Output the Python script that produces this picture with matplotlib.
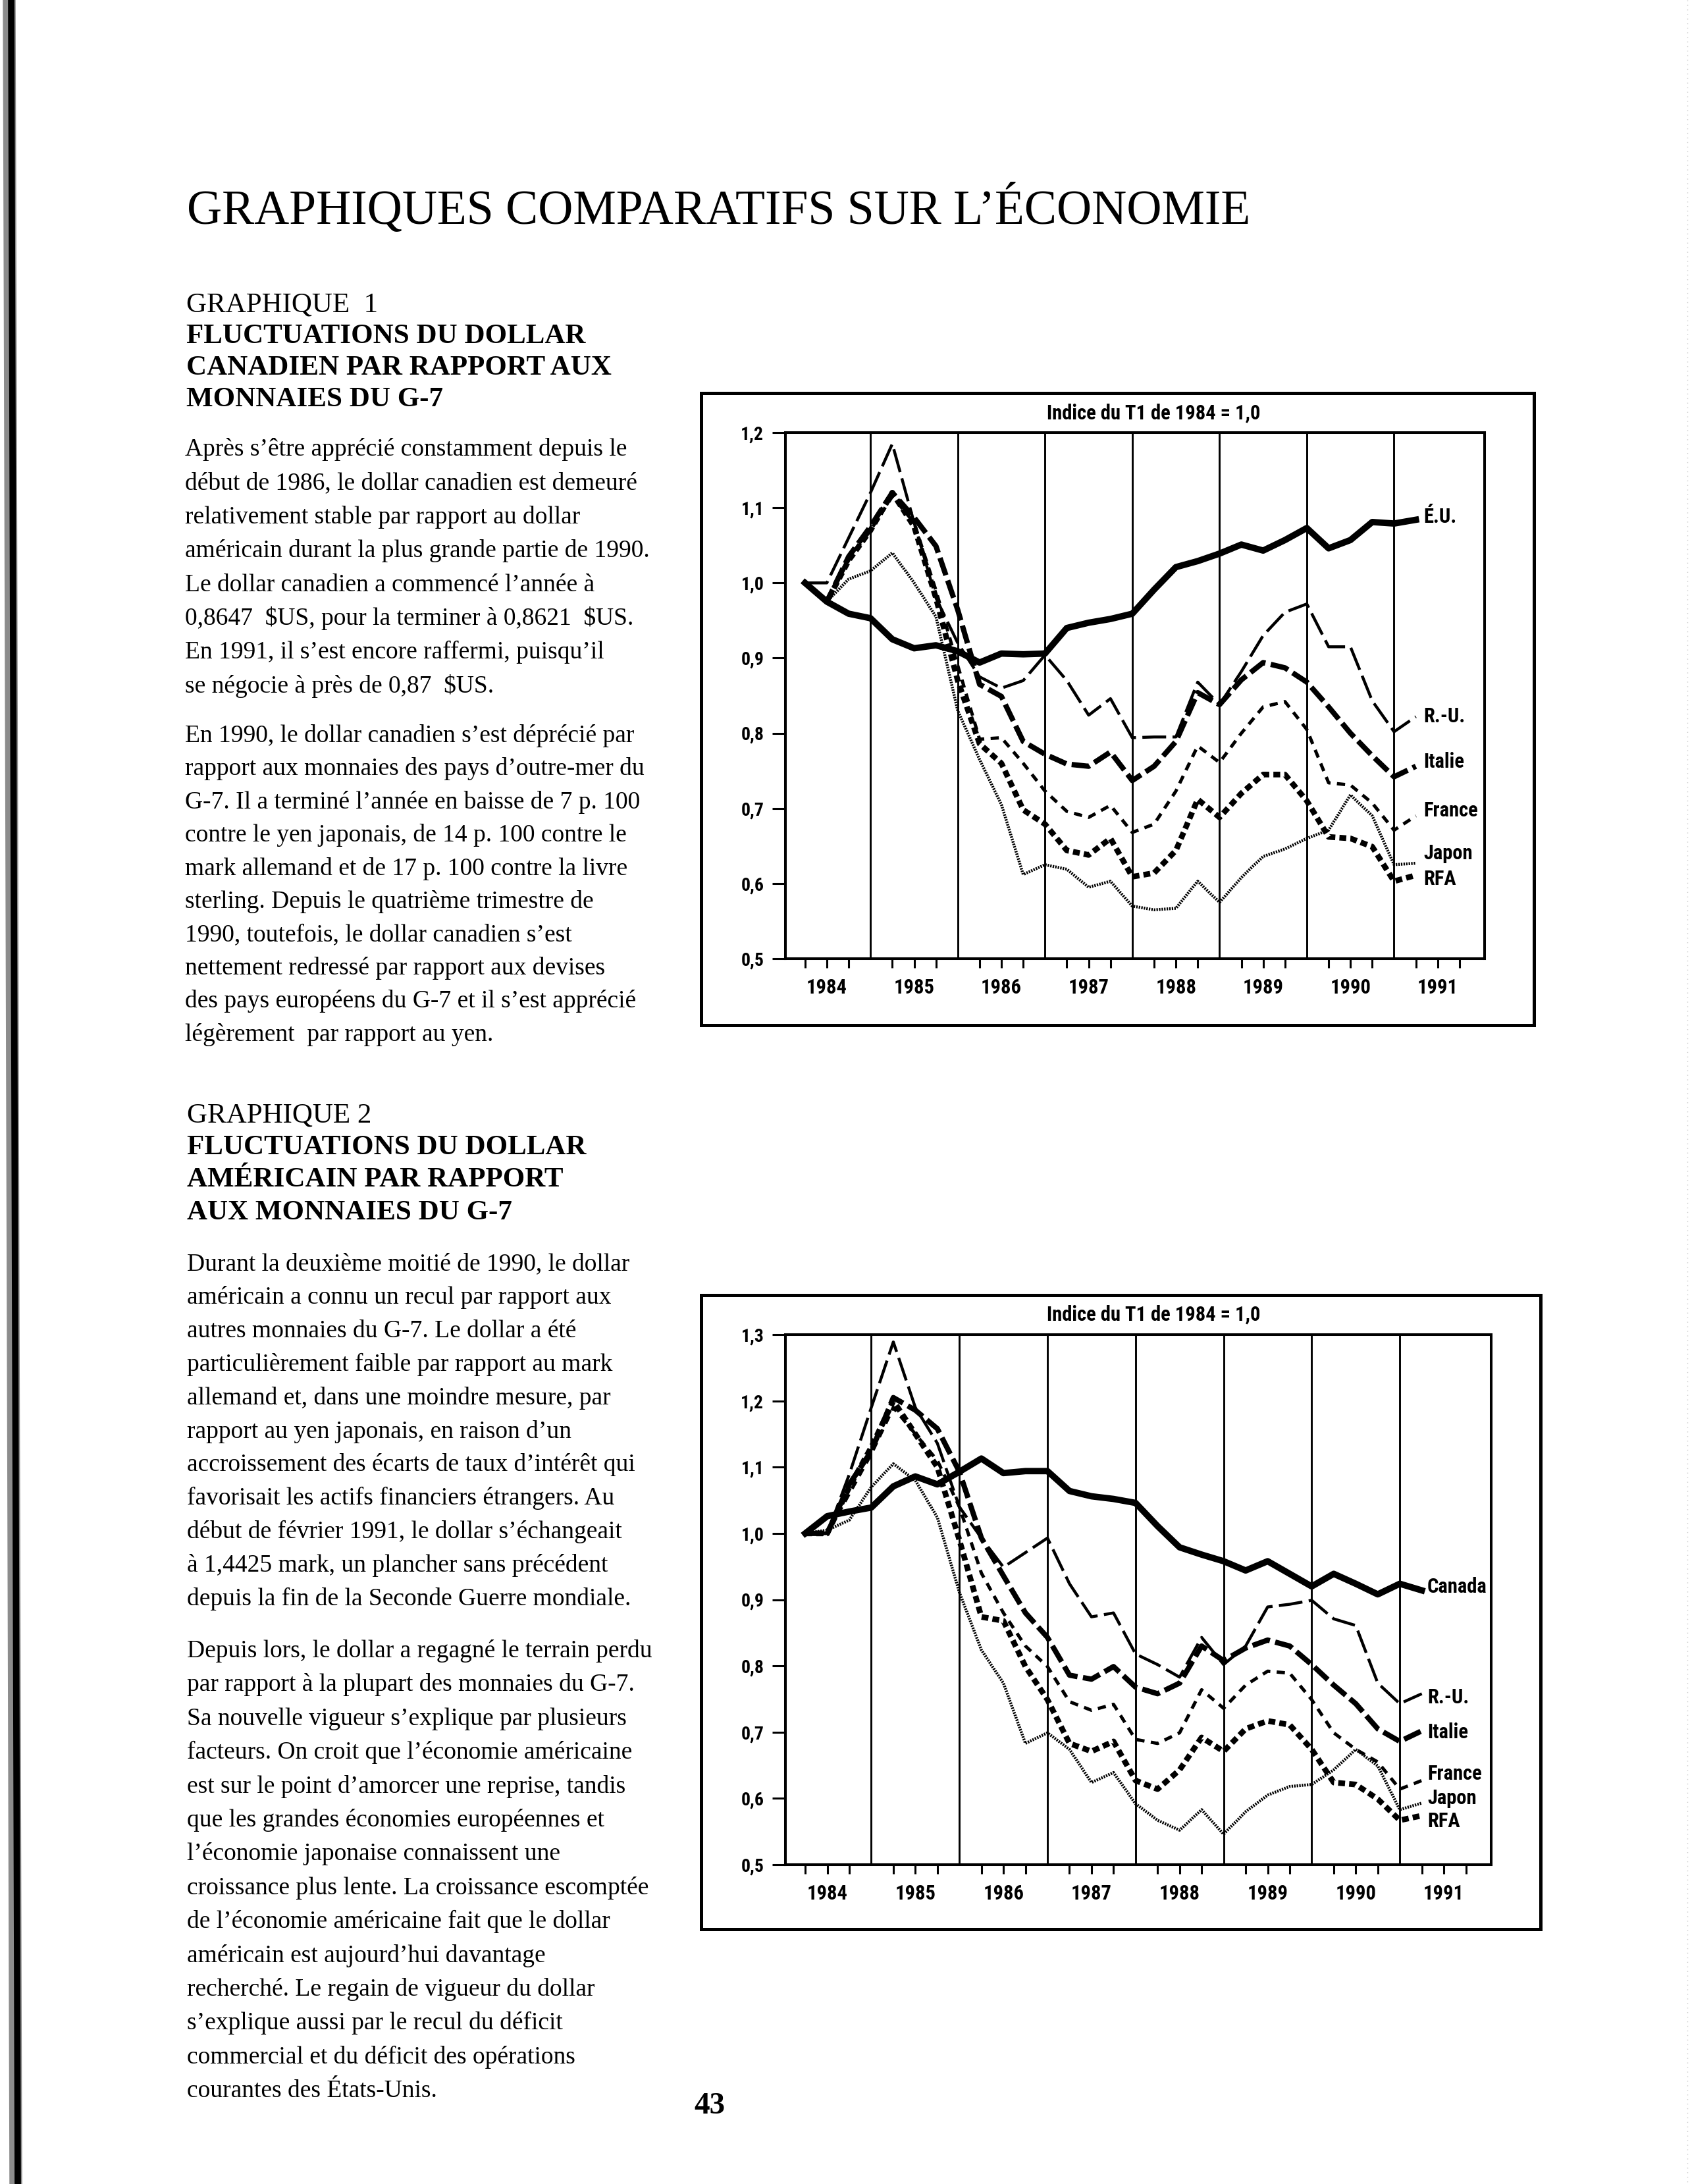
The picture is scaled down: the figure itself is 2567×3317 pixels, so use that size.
import matplotlib
matplotlib.use('Agg')
import matplotlib.pyplot as plt
from matplotlib import font_manager as fm
from matplotlib.patches import Rectangle
from matplotlib.lines import Line2D

W, H = 2567, 3317

# quarterly index, T1 1984 = 1,0 (1984 T1 .. 1991 T1)
year_labels = ['1984', '1985', '1986', '1987', '1988', '1989', '1990', '1991']
y1_ticks = [0.5, 0.6, 0.7, 0.8, 0.9, 1.0, 1.1, 1.2]
y1_labels = ['0,5', '0,6', '0,7', '0,8', '0,9', '1,0', '1,1', '1,2']
y2_ticks = [0.5, 0.6, 0.7, 0.8, 0.9, 1.0, 1.1, 1.2, 1.3]
y2_labels = ['0,5', '0,6', '0,7', '0,8', '0,9', '1,0', '1,1', '1,2', '1,3']

# graphique 1 : dollar canadien
g1_eu = [1.000, 0.975, 0.959, 0.953, 0.925, 0.913, 0.917, 0.909, 0.894, 0.906,
         0.905, 0.906, 0.940, 0.947, 0.952, 0.959, 0.991, 1.021, 1.029, 1.039,
         1.051, 1.043, 1.057, 1.073, 1.046, 1.057, 1.081, 1.079, 1.084]
g1_ru = [1.000, 1.000, 1.060, 1.120, 1.185, 1.080, 0.980, 0.920, 0.875, 0.860,
         0.870, 0.904, 0.870, 0.824, 0.846, 0.794, 0.795, 0.795, 0.868, 0.838,
         0.882, 0.930, 0.961, 0.972, 0.915, 0.915, 0.843, 0.802, 0.822]
g1_it = [1.000, 0.975, 1.035, 1.075, 1.120, 1.087, 1.049, 0.964, 0.865, 0.849,
         0.789, 0.772, 0.759, 0.756, 0.775, 0.737, 0.756, 0.789, 0.854, 0.838,
         0.871, 0.894, 0.887, 0.868, 0.835, 0.800, 0.770, 0.742, 0.756]
g1_fr = [1.000, 0.975, 1.030, 1.070, 1.115, 1.080, 0.990, 0.890, 0.792, 0.794,
         0.760, 0.723, 0.696, 0.688, 0.704, 0.668, 0.679, 0.723, 0.783, 0.761,
         0.800, 0.835, 0.842, 0.805, 0.734, 0.731, 0.707, 0.671, 0.690]
g1_jp = [1.000, 0.975, 1.005, 1.016, 1.040, 1.000, 0.955, 0.830, 0.765, 0.705,
         0.612, 0.625, 0.619, 0.595, 0.603, 0.570, 0.565, 0.567, 0.603, 0.575,
         0.608, 0.636, 0.646, 0.660, 0.671, 0.718, 0.690, 0.625, 0.627]
g1_rfa = [1.000, 0.975, 1.030, 1.070, 1.120, 1.075, 0.980, 0.870, 0.786, 0.760,
          0.698, 0.679, 0.644, 0.638, 0.660, 0.609, 0.614, 0.644, 0.712, 0.688,
          0.720, 0.745, 0.745, 0.710, 0.662, 0.660, 0.649, 0.603, 0.611]

# graphique 2 : dollar américain
g2_ca = [1.000, 1.026, 1.033, 1.039, 1.071, 1.086, 1.074, 1.093, 1.113, 1.091,
         1.094, 1.094, 1.064, 1.056, 1.052, 1.046, 1.011, 0.979, 0.968, 0.958,
         0.944, 0.958, 0.939, 0.920, 0.939, 0.924, 0.908, 0.924, 0.914]
g2_ru = [1.000, 1.000, 1.089, 1.190, 1.289, 1.190, 1.136, 1.040, 0.993, 0.949,
         0.971, 0.993, 0.924, 0.874, 0.880, 0.818, 0.802, 0.783, 0.843, 0.802,
         0.830, 0.889, 0.893, 0.899, 0.871, 0.861, 0.774, 0.743, 0.758]
g2_it = [1.000, 1.000, 1.074, 1.124, 1.205, 1.186, 1.158, 1.093, 0.993, 0.936,
         0.880, 0.843, 0.786, 0.780, 0.799, 0.768, 0.758, 0.774, 0.830, 0.808,
         0.827, 0.839, 0.830, 0.802, 0.771, 0.743, 0.705, 0.686, 0.702]
g2_fr = [1.000, 1.000, 1.060, 1.120, 1.190, 1.150, 1.110, 1.040, 0.940, 0.880,
         0.830, 0.799, 0.746, 0.733, 0.742, 0.689, 0.683, 0.699, 0.764, 0.736,
         0.771, 0.792, 0.789, 0.749, 0.699, 0.674, 0.655, 0.614, 0.627]
g2_jp = [1.000, 1.005, 1.020, 1.070, 1.105, 1.080, 1.024, 0.911, 0.824, 0.774,
         0.683, 0.699, 0.674, 0.624, 0.639, 0.592, 0.567, 0.552, 0.583, 0.546,
         0.580, 0.605, 0.618, 0.621, 0.643, 0.674, 0.649, 0.583, 0.593]
g2_rfa = [1.000, 1.000, 1.070, 1.130, 1.200, 1.150, 1.100, 0.990, 0.874, 0.868,
          0.799, 0.749, 0.683, 0.671, 0.686, 0.627, 0.614, 0.643, 0.692, 0.671,
          0.705, 0.717, 0.711, 0.674, 0.624, 0.621, 0.599, 0.567, 0.574]

g1_series = [('Japon', g1_jp), ('RFA', g1_rfa), ('France', g1_fr),
             ('Italie', g1_it), ('R.-U.', g1_ru), ('É.U.', g1_eu)]
g2_series = [('Japon', g2_jp), ('RFA', g2_rfa), ('France', g2_fr),
             ('Italie', g2_it), ('R.-U.', g2_ru), ('Canada', g2_ca)]

# where the end labels sit (data units)
g1_label_y = {'É.U.': 1.088, 'R.-U.': 0.822, 'Italie': 0.762,
              'France': 0.697, 'Japon': 0.640, 'RFA': 0.606}
g2_label_y = {'Canada': 0.919, 'R.-U.': 0.752, 'Italie': 0.700,
              'France': 0.637, 'Japon': 0.600, 'RFA': 0.566}

title = 'GRAPHIQUES COMPARATIFS SUR L\u2019ÉCONOMIE'
chart_title = 'Indice du T1 de 1984 = 1,0'

head1 = ['GRAPHIQUE  1', 'FLUCTUATIONS DU DOLLAR',
         'CANADIEN PAR RAPPORT AUX', 'MONNAIES DU G-7']
body1a = ['Après s\u2019être apprécié constamment depuis le',
          'début de 1986, le dollar canadien est demeuré',
          'relativement stable par rapport au dollar',
          'américain durant la plus grande partie de 1990.',
          'Le dollar canadien a commencé l\u2019année à',
          '0,8647  $US, pour la terminer à 0,8621  $US.',
          'En 1991, il s\u2019est encore raffermi, puisqu\u2019il',
          'se négocie à près de 0,87  $US.']
body1b = ['En 1990, le dollar canadien s\u2019est déprécié par',
          'rapport aux monnaies des pays d\u2019outre-mer du',
          'G-7. Il a terminé l\u2019année en baisse de 7 p. 100',
          'contre le yen japonais, de 14 p. 100 contre le',
          'mark allemand et de 17 p. 100 contre la livre',
          'sterling. Depuis le quatrième trimestre de',
          '1990, toutefois, le dollar canadien s\u2019est',
          'nettement redressé par rapport aux devises',
          'des pays européens du G-7 et il s\u2019est apprécié',
          'légèrement  par rapport au yen.']

head2 = ['GRAPHIQUE 2', 'FLUCTUATIONS DU DOLLAR',
         'AMÉRICAIN PAR RAPPORT', 'AUX MONNAIES DU G-7']
body2a = ['Durant la deuxième moitié de 1990, le dollar',
          'américain a connu un recul par rapport aux',
          'autres monnaies du G-7. Le dollar a été',
          'particulièrement faible par rapport au mark',
          'allemand et, dans une moindre mesure, par',
          'rapport au yen japonais, en raison d\u2019un',
          'accroissement des écarts de taux d\u2019intérêt qui',
          'favorisait les actifs financiers étrangers. Au',
          'début de février 1991, le dollar s\u2019échangeait',
          'à 1,4425 mark, un plancher sans précédent',
          'depuis la fin de la Seconde Guerre mondiale.']
body2b = ['Depuis lors, le dollar a regagné le terrain perdu',
          'par rapport à la plupart des monnaies du G-7.',
          'Sa nouvelle vigueur s\u2019explique par plusieurs',
          'facteurs. On croit que l\u2019économie américaine',
          'est sur le point d\u2019amorcer une reprise, tandis',
          'que les grandes économies européennes et',
          'l\u2019économie japonaise connaissent une',
          'croissance plus lente. La croissance escomptée',
          'de l\u2019économie américaine fait que le dollar',
          'américain est aujourd\u2019hui davantage',
          'recherché. Le regain de vigueur du dollar',
          's\u2019explique aussi par le recul du déficit',
          'commercial et du déficit des opérations',
          'courantes des États-Unis.']


def _pick_font(names):
    for name in names:
        try:
            fm.findfont(fm.FontProperties(family=name), fallback_to_default=False)
            return name
        except ValueError:
            pass
    return 'DejaVu Sans'


def _narrow_bold():
    """Look for an installed condensed / narrow bold sans face."""
    order = ['Liberation Sans Narrow', 'Noto Sans', 'Roboto', 'Open Sans', 'DejaVu Sans']
    found = []
    for f in fm.fontManager.ttflist:
        narrow = ('Narrow' in f.name or 'Condensed' in f.name
                  or 'condensed' in str(f.stretch))
        if not narrow or f.style != 'normal':
            continue
        w = f.weight if isinstance(f.weight, int) else (700 if 'bold' in str(f.weight) else 400)
        if w < 600 or w > 800:
            continue
        if 'extra' in str(f.stretch) or 'ultra' in str(f.stretch):
            continue
        rank = next((k for k, n in enumerate(order) if f.name.startswith(n)), len(order))
        found.append((rank, abs(w - 700), f.fname))
    if not found:
        return None
    return sorted(found)[0][2]


SERIF = _pick_font(['Liberation Serif', 'DejaVu Serif'])
NARROW_FILE = _narrow_bold()
if NARROW_FILE:
    SCALE = 1.0
else:
    SCALE = 0.88


def cfont(size):
    # chart lettering: condensed bold sans
    if NARROW_FILE:
        return fm.FontProperties(fname=NARROW_FILE, size=size * SCALE)
    return fm.FontProperties(family=_pick_font(['Liberation Sans', 'DejaVu Sans']),
                             weight='bold', size=size * SCALE)


plt.rcParams['text.parse_math'] = False
plt.rcParams['lines.scale_dashes'] = False

STYLES = {
    'main': dict(lw=7.0),
    'R.-U.': dict(lw=3.2, dashes=(26, 7)),
    'Italie': dict(lw=5.8, dashes=(20, 6)),
    'France': dict(lw=3.6, dashes=(9, 7)),
    'Japon': dict(lw=3.2, dashes=(1.6, 1.2)),
    'RFA': dict(lw=6.2, dashes=(7.5, 4.5)),
}


def _ftext(fig, x, y, s, **kw):
    # page text placed in pixel coordinates of the scanned page
    kw.setdefault('va', 'baseline')
    fig.text(x / W, 1 - y / H, s, **kw)


def _text_block(fig, lines, x, y0, step, **kw):
    for k, line in enumerate(lines):
        _ftext(fig, x, y0 + k * step, line, **kw)


def _box(fig, left, top, right, bottom, lw):
    fig.add_artist(Rectangle((left / W, 1 - bottom / H), (right - left) / W,
                             (bottom - top) / H, transform=fig.transFigure,
                             fill=False, ec='black', lw=lw))


def _chart(fig, px, yticks, ylabels, series, label_y, label_x):
    left, top, right, bottom = px
    ax = fig.add_axes([left / W, 1 - bottom / H, (right - left) / W, (bottom - top) / H])
    ax.set_xlim(-0.9, 31.15)
    ax.set_ylim(yticks[0], yticks[-1])

    for g in range(3, 31, 4):
        ax.axvline(g, color='black', lw=2.1, zorder=1)

    for name, vals in series:
        st = STYLES.get(name, STYLES['main'])
        line, = ax.plot(range(len(vals)), vals, color='black', lw=st['lw'],
                        solid_joinstyle='round', zorder=3, clip_on=False)
        if 'dashes' in st:
            line.set_dashes(st['dashes'])
            line.set_dash_capstyle('butt')
        ax.text(label_x, label_y[name], name, fontproperties=cfont(22),
                ha='left', va='center', zorder=4)

    xt = [i for i in range(31) if i % 4 != 3]
    xl = [year_labels[i // 4] if i % 4 == 1 else '' for i in xt]
    ax.set_xticks(xt, xl)
    ax.set_yticks(yticks, ylabels)
    ax.tick_params(axis='x', length=10, width=2.2, pad=11)
    ax.tick_params(axis='y', length=14.5, width=2.2, pad=9)
    for lab in ax.get_xticklabels():
        lab.set_fontproperties(cfont(22))
    for lab in ax.get_yticklabels():
        lab.set_fontproperties(cfont(20))
    for sp in ax.spines.values():
        sp.set_linewidth(2.9)
    return ax


fig = plt.figure(figsize=(W / 100, H / 100), dpi=100)

# scan edge on the left
fig.add_artist(Line2D([14 / W, 24 / W], [1, 0], color='0.55', lw=14,
                      transform=fig.transFigure))
fig.add_artist(Line2D([17 / W, 27 / W], [1, 0], color='black', lw=7,
                      transform=fig.transFigure))
fig.add_artist(Line2D([2563 / W, 2563 / W], [1, 0], color='0.8', lw=1,
                      ls=(0, (1, 4)), transform=fig.transFigure))

_ftext(fig, 284, 340, title, family=SERIF, fontsize=53)

_text_block(fig, head1[:1], 283, 473, 48, family=SERIF, fontsize=31)
_text_block(fig, head1[1:], 283, 521, 48, family=SERIF, fontsize=31, fontweight='bold')
_text_block(fig, body1a, 281, 692, 51.4, family=SERIF, fontsize=27)
_text_block(fig, body1b, 281, 1127, 50.4, family=SERIF, fontsize=27)

_text_block(fig, head2[:1], 284, 1704, 49.3, family=SERIF, fontsize=31)
_text_block(fig, head2[1:], 284, 1753, 49.3, family=SERIF, fontsize=31, fontweight='bold')
_text_block(fig, body2a, 284, 1929, 50.9, family=SERIF, fontsize=27)
_text_block(fig, body2b, 284, 2517, 51.4, family=SERIF, fontsize=27)

_ftext(fig, 1054, 3210, '43', family=SERIF, fontsize=34, fontweight='bold')

# graphique 1
_box(fig, 1065, 597, 2330, 1557, 3.6)
_ftext(fig, 1752, 637, chart_title, ha='center', fontproperties=cfont(22))
_chart(fig, (1193, 657, 2255, 1456), y1_ticks, y1_labels, g1_series, g1_label_y, 28.35)

# graphique 2
_box(fig, 1065, 1967, 2340, 2930, 3.6)
_ftext(fig, 1752, 2006, chart_title, ha='center', fontproperties=cfont(22))
_chart(fig, (1193, 2027, 2265, 2832), y2_ticks, y2_labels, g2_series, g2_label_y, 28.25)

fig.savefig('out.png', dpi=100, facecolor='white')
